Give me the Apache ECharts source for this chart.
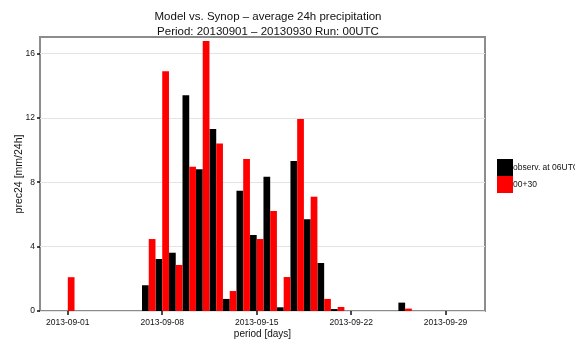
<!DOCTYPE html>
<html>
<head>
<meta charset="utf-8">
<script src="https://cdn.jsdelivr.net/npm/echarts@6/dist/echarts.min.js"></script>
<style>
  html, body { margin: 0; padding: 0; background: #fff; }
  #main { width: 575px; height: 342px; }
</style>
</head>
<body>
<div id="main"></div>
<script>
// days of September 2013
const days = [1, 2, 3, 4, 5, 6, 7, 8, 9, 10, 11, 12, 13, 14, 15, 16, 17, 18, 19, 20, 21, 22, 23, 24, 25, 26, 27, 28, 29, 30];
const observ = [0, 0, 0, 0, 0, 0, 1.6, 3.23, 3.62, 13.4, 8.8, 11.3, 0.75, 7.47, 4.72, 8.34, 0.23, 9.32, 5.7, 2.98, 0.12, 0, 0, 0, 0, 0.52, 0, 0, 0, 0];
const model = [2.1, 0, 0, 0, 0, 0, 4.47, 14.9, 2.86, 8.96, 16.77, 10.4, 1.24, 9.44, 4.47, 6.21, 2.11, 11.93, 7.1, 0.75, 0.25, 0, 0, 0, 0, 0.15, 0, 0, 0, 0];
const xTicks = [1, 8, 15, 22, 29];
const yTicks = [0, 4, 8, 12, 16];

const font = "Liberation Sans";
const pad = n => (n < 10 ? "0" : "") + n;

let myChart = echarts.init(document.getElementById("main"));
let option = {
  animation: false,
  title: {
    text: "Model vs. Synop – average 24h precipitation\nPeriod: 20130901 – 20130930 Run: 00UTC",
    left: 263,
    textAlign: "center",
    top: 4,
    textStyle: {
      fontFamily: font,
      fontSize: 11.5,
      fontWeight: "normal",
      color: "#111",
      lineHeight: 15.5
    }
  },
  legend: {
    orient: "vertical",
    left: 497,
    top: 159,
    itemWidth: 16,
    itemHeight: 17,
    itemGap: 0,
    padding: 0,
    icon: "rect",
    textStyle: { fontFamily: font, fontSize: 8.5, color: "#111", padding: [0, 0, 0, -5] },
    data: ["observ. at 06UTC", "00+30"]
  },
  grid: {
    left: 40,
    right: 90,
    top: 37,
    bottom: 31,
    outerBoundsMode: "none",
    show: true,
    borderColor: "#8c8c8c",
    borderWidth: 2
  },
  xAxis: {
    type: "value",
    min: -1.06,
    max: 31.92,
    name: "period [days]",
    nameLocation: "middle",
    nameGap: 18,
    nameMoveOverlap: false,
    nameTextStyle: { fontFamily: font, fontSize: 10, color: "#111" },
    axisLine: { show: false, onZero: false },
    splitLine: { show: false },
    axisTick: {
      show: true,
      length: 4,
      customValues: xTicks,
      lineStyle: { color: "#111", width: 1.5 }
    },
    axisLabel: {
      customValues: xTicks,
      margin: 7,
      fontFamily: font,
      fontSize: 8.5,
      color: "#111",
      formatter: v => "2013-09-" + pad(Math.round(v))
    }
  },
  yAxis: {
    type: "value",
    min: 0,
    max: 17.02,
    interval: 2,
    name: "prec24 [mm/24h]",
    nameLocation: "middle",
    nameGap: 15,
    nameMoveOverlap: false,
    nameTextStyle: { fontFamily: font, fontSize: 10.5, color: "#111" },
    axisLine: { show: false, onZero: false },
    splitLine: { show: true, lineStyle: { color: "#e4e4e4", width: 1 } },
    axisTick: {
      show: true,
      length: 3,
      customValues: yTicks,
      lineStyle: { color: "#111", width: 1.5 }
    },
    axisLabel: {
      customValues: yTicks,
      margin: 5,
      fontFamily: font,
      fontSize: 8.5,
      color: "#111"
    }
  },
  series: [
    {
      name: "observ. at 06UTC",
      type: "bar",
      barWidth: 6.73,
      barGap: "0%",
      itemStyle: { color: "#000000" },
      data: days.map((d, i) => [d, observ[i]])
    },
    {
      name: "00+30",
      type: "bar",
      barWidth: 6.73,
      barGap: "0%",
      itemStyle: { color: "#ff0000" },
      data: days.map((d, i) => [d, model[i]])
    }
  ]
};
myChart.setOption(option);
</script>
</body>
</html>
